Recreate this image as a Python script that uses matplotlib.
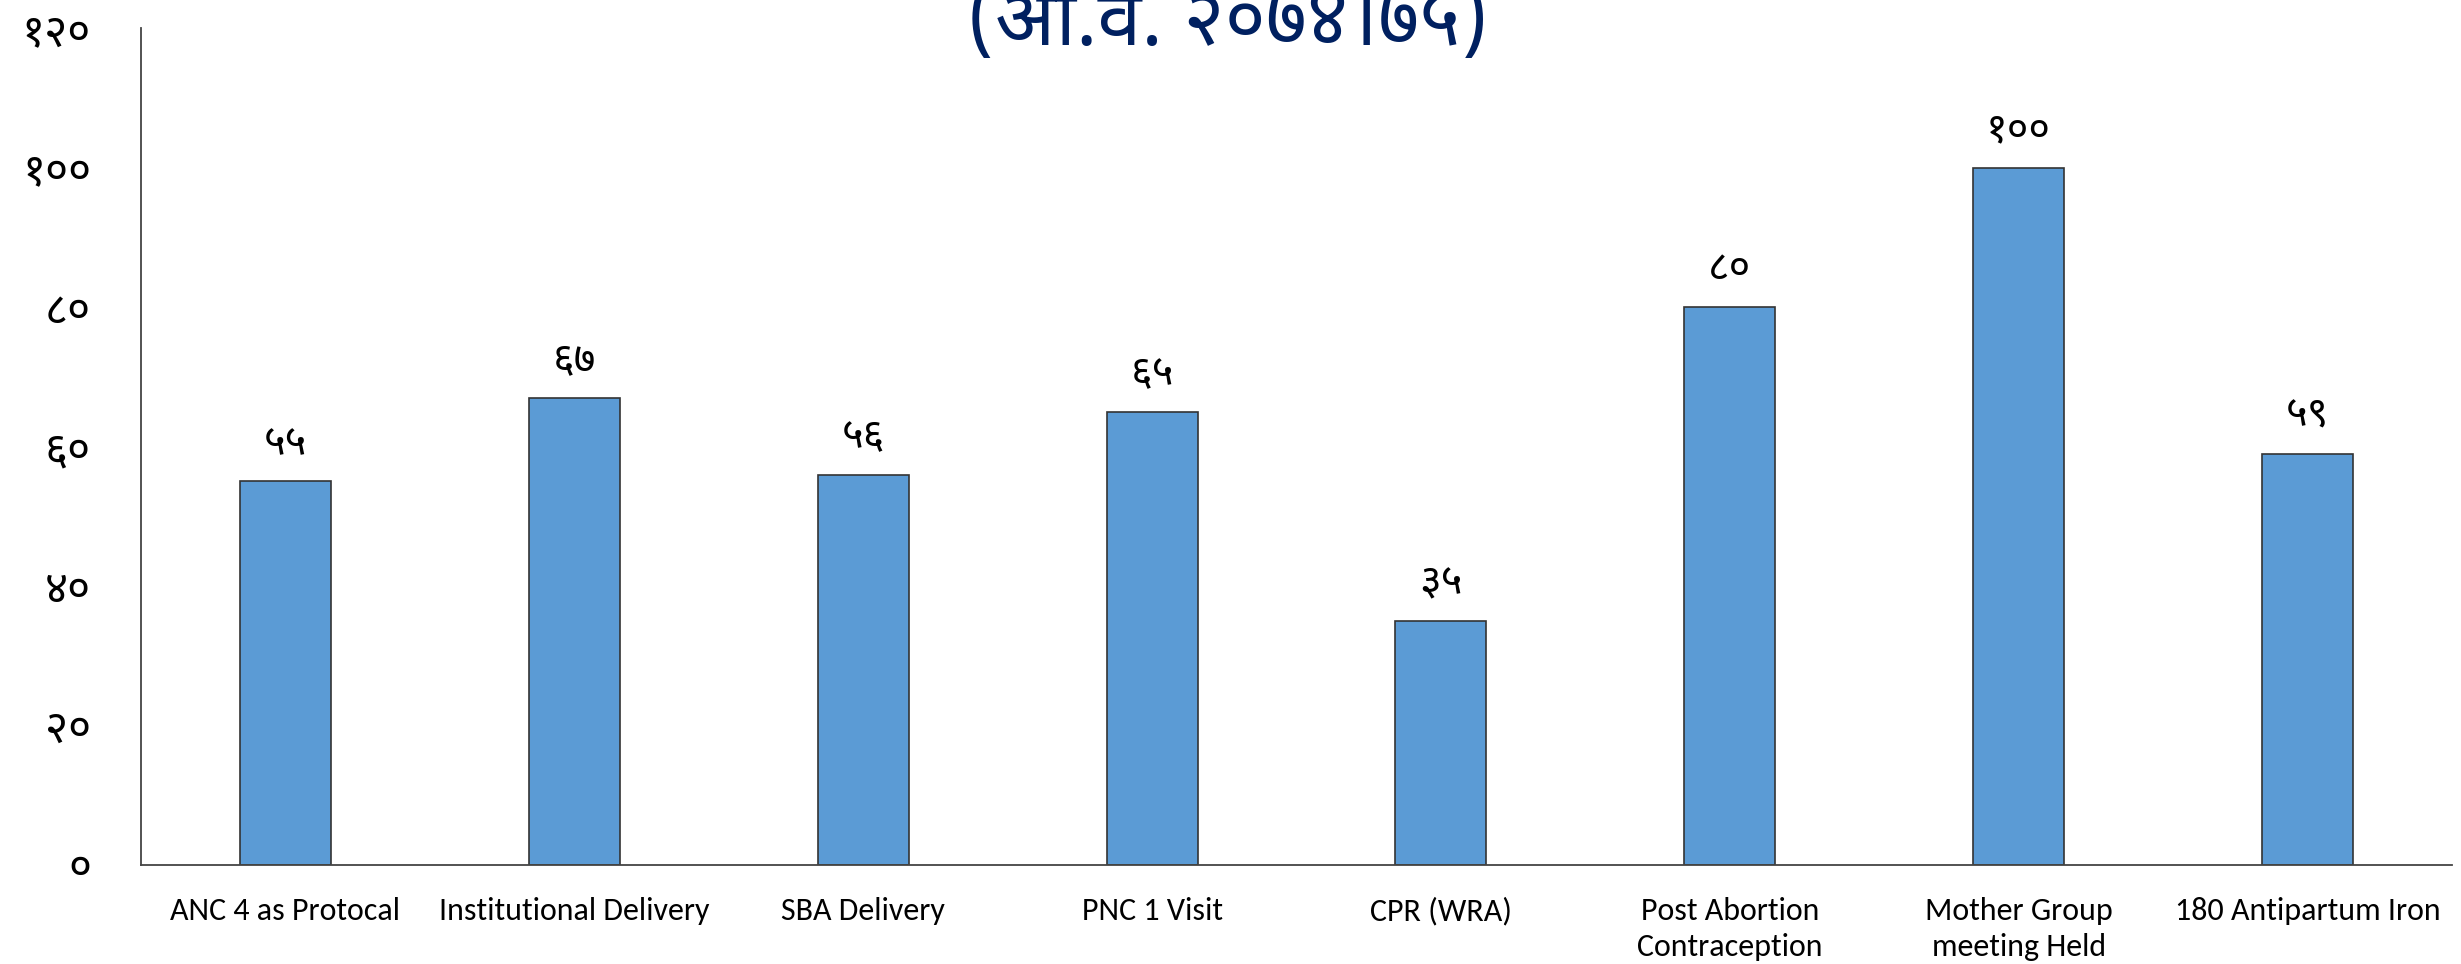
import matplotlib
matplotlib.use('Agg')
import matplotlib.pyplot as plt

# data
categories = ['ANC 4 as Protocal', 'Institutional Delivery', 'SBA Delivery', 'PNC 1 Visit',
              'CPR (WRA)', 'Post Abortion\nContraception', 'Mother Group\nmeeting Held',
              '180 Antipartum Iron']
values = [55, 67, 56, 65, 35, 80, 100, 59]
yticks = [0, 20, 40, 60, 80, 100, 120]
title = '(आ.व. २०७४।७५)'

deva_font = ['Noto Sans Devanagari', 'FreeSans', 'DejaVu Sans']
label_font = ['Carlito', 'Liberation Sans', 'DejaVu Sans']


def nep(n):
    digits = '०१२३४५६७८९'
    return ''.join(digits[int(c)] for c in str(n))


fig = plt.figure(figsize=(24.61, 9.64), dpi=100)
ax = fig.add_axes([0.0573, 0.1027, 0.939, 0.868])

x = range(len(categories))
ax.bar(x, values, width=0.315, color='#5B9BD5', edgecolor='#333333', linewidth=1.2)

for i, v in enumerate(values):
    ax.annotate(nep(v), (i, v), xytext=(0, 12), textcoords='offset points',
                ha='center', va='bottom', fontsize=30, family=deva_font)

ax.set_xlim(-0.5, len(categories) - 0.5)
ax.set_ylim(0, 120)
ax.set_yticks(yticks)
ax.set_yticklabels([nep(t) for t in yticks], family=deva_font, fontsize=32)
ax.set_xticks(list(x))
ax.set_xticklabels(categories, family=label_font, fontsize=23, linespacing=1.35)
ax.tick_params(axis='both', length=0)
ax.tick_params(axis='y', pad=36)
ax.tick_params(axis='x', pad=23)

for s in ['top', 'right']:
    ax.spines[s].set_visible(False)
for s in ['left', 'bottom']:
    ax.spines[s].set_color('#444444')
    ax.spines[s].set_linewidth(1.3)

fig.text(0.499, 0.975, title, ha='center', va='center', fontsize=57,
         fontweight='heavy', color='#002060', family=deva_font)

fig.savefig('out.png', dpi=100)
